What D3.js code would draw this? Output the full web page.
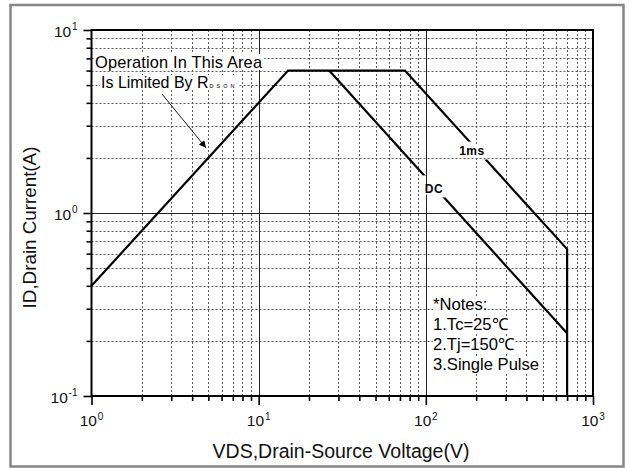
<!DOCTYPE html>
<html><head><meta charset="utf-8">
<script src="https://cdn.jsdelivr.net/npm/d3@7"></script>
<style>body{margin:0;background:#fff}svg{display:block}</style>
</head><body><svg id="c" width="630" height="468"></svg>
<script>
// ---------- data ----------
const soaV = [1, 15, 75, 700, 700];          // 1ms SOA outline (V)
const soaI = [0.4, 6, 6, 0.635, 0.1];        // (A)
const dcV = [26.4, 700];                     // DC line (V)
const dcI = [6, 0.22];                       // (A)
const xDecades = [1, 10, 100, 1000];
const xTickExp = ["0", "1", "2", "3"];
const yDecades = [0.1, 1, 10];
const yTickExp = ["-1", "0", "1"];
const lineLabels = ["1ms", "DC"];
const lineLabelV = [188.7, 111.8];
const lineLabelI = [2.2, 1.35];
const notes = ["*Notes:", "1.Tc=25\u2103", "2.Tj=150\u2103", "3.Single Pulse"];
const annot1 = "Operation In This Area";
const annot2 = "Is Limited By R";
const annot2Sub = "DSON";
const arrowV = [2.64, 4.84];
const arrowI = [4.47, 2.27];
const xTitle = "VDS,Drain-Source Voltage(V)";
const yTitle = "ID,Drain Current(A)";

// ---------- layout ----------
const W = 630, H = 468;
const m = {l: 91.5, r: 593, t: 30, b: 396};
const font = "'Liberation Sans', Arial, Helvetica, sans-serif";
const x = d3.scaleLog().domain([1, 1000]).range([m.l, m.r]);
const y = d3.scaleLog().domain([0.1, 10]).range([m.b, m.t]);
const svg = d3.select("#c").attr("font-family", font);
const isDecade = v => Math.abs(Math.log10(v) - Math.round(Math.log10(v))) < 1e-9;
const px = v => Math.round(v) + 0.5;

svg.append("rect").attr("width", W).attr("height", H).attr("fill", "#fff");
svg.append("rect").attr("x", 10.5).attr("y", 5).attr("width", 613).attr("height", 461.5)
  .attr("fill", "none").attr("stroke", "#868686").attr("stroke-width", 2.5);

// grid
const xt = x.ticks(), yt = y.ticks();
const grid = svg.append("g");
grid.selectAll(".gx").data(xt.filter(v => !isDecade(v))).join("line")
  .attr("x1", d => px(x(d))).attr("x2", d => px(x(d))).attr("y1", m.t).attr("y2", m.b)
  .attr("stroke", "#5c5c5c").attr("stroke-dasharray", "2,2");
grid.selectAll(".gy").data(yt.filter(v => !isDecade(v))).join("line")
  .attr("y1", d => px(y(d))).attr("y2", d => px(y(d))).attr("x1", m.l).attr("x2", m.r)
  .attr("stroke", "#5c5c5c").attr("stroke-dasharray", "2,2");
grid.selectAll(".gX").data(xDecades.slice(1, -1)).join("line")
  .attr("x1", d => px(x(d))).attr("x2", d => px(x(d))).attr("y1", m.t).attr("y2", m.b)
  .attr("stroke", "#222");
grid.selectAll(".gY").data(yDecades.slice(1, -1)).join("line")
  .attr("y1", d => px(y(d))).attr("y2", d => px(y(d))).attr("x1", m.l).attr("x2", m.r)
  .attr("stroke", "#222");

// text backgrounds layer + text layer
const bgLayer = svg.append("g");
const curveLayer = svg.append("g");
const textLayer = svg.append("g");
function withBg(sel, pad) {
  const b = sel.node().getBBox();
  bgLayer.append("rect").attr("x", b.x - pad[0]).attr("y", b.y - pad[1])
    .attr("width", b.width + pad[0] + pad[2]).attr("height", b.height + pad[1] + pad[3])
    .attr("fill", "#fff");
  return b;
}

// annotation
const a1 = textLayer.append("text").attr("x", 95).attr("y", 68).attr("font-size", 16.4)
  .attr("textLength", 167).text(annot1);
withBg(a1, [1, -1, 1, -1]);
const a2 = textLayer.append("text").attr("x", 101).attr("y", 88).attr("font-size", 16);
a2.append("tspan").text(annot2);
a2.append("tspan").attr("font-size", 5.5).attr("letter-spacing", 3).attr("dx", 1).text(annot2Sub);
withBg(a2, [1, -1, 1, -1]);

// notes
notes.forEach((t, i) => {
  const n = textLayer.append("text").attr("x", 433).attr("y", 310 + i * 20)
    .attr("font-size", 16.6).text(t);
  withBg(n, [0, -1, 0, -1]);
});

// curves with gaps at labels
const defs = svg.append("defs");
const mask = defs.append("mask").attr("id", "gap").attr("maskUnits", "userSpaceOnUse")
  .attr("x", 0).attr("y", 0).attr("width", W).attr("height", H);
mask.append("rect").attr("width", W).attr("height", H).attr("fill", "#fff");
const gapPad = [[1, 2, 2, 2], [2, 7, 2, 1]];
lineLabels.forEach((t, i) => {
  const cx = x(lineLabelV[i]), cy = y(lineLabelI[i]);
  const lt = textLayer.append("text").attr("x", cx).attr("y", cy + 4.3)
    .attr("text-anchor", "middle").attr("font-size", 12).attr("font-weight", "bold")
    .attr("letter-spacing", 0.5).text(t);
  const b = lt.node().getBBox();
  bgLayer.append("rect").attr("x", b.x).attr("y", cy - 5).attr("width", b.width)
    .attr("height", 10.5).attr("fill", "#fff");
  const p = gapPad[i];
  mask.append("rect").attr("x", b.x - p[0]).attr("y", b.y - p[1])
    .attr("width", b.width + p[0] + p[2]).attr("height", b.height + p[1] + p[3]).attr("fill", "#000");
});

const line = d3.line().x(d => x(d[0])).y(d => y(d[1]));
const cg = curveLayer.attr("mask", "url(#gap)");
cg.append("path").attr("d", line(d3.zip(soaV, soaI))).attr("fill", "none")
  .attr("stroke", "#000").attr("stroke-width", 2.2);
cg.append("path").attr("d", line(d3.zip(dcV, dcI))).attr("fill", "none")
  .attr("stroke", "#000").attr("stroke-width", 2.2);

// arrow
defs.append("marker").attr("id", "ah").attr("viewBox", "0 0 10 10").attr("refX", 10).attr("refY", 5)
  .attr("markerWidth", 9).attr("markerHeight", 7).attr("markerUnits", "userSpaceOnUse")
  .attr("orient", "auto")
  .append("path").attr("d", "M0,0 L10,5 L0,10 Z").attr("fill", "#000");
svg.append("line").attr("x1", x(arrowV[0])).attr("y1", y(arrowI[0]))
  .attr("x2", x(arrowV[1])).attr("y2", y(arrowI[1]))
  .attr("stroke", "#000").attr("stroke-width", 0.9).attr("marker-end", "url(#ah)");

// frame
svg.append("rect").attr("x", m.l).attr("y", m.t).attr("width", m.r - m.l).attr("height", m.b - m.t)
  .attr("fill", "none").attr("stroke", "#000").attr("stroke-width", 2);

// axes ticks
const xAx = svg.append("g").attr("transform", `translate(0,${m.b})`)
  .call(d3.axisBottom(x).tickValues(xt).tickFormat("").tickSizeOuter(0));
xAx.select(".domain").remove();
xAx.selectAll(".tick line").attr("y2", d => isDecade(d) ? 9 : 5).attr("stroke", "#000").attr("stroke-width", 1.6);
const yAx = svg.append("g").attr("transform", `translate(${m.l},0)`)
  .call(d3.axisLeft(y).tickValues(yt).tickFormat("").tickSizeOuter(0));
yAx.select(".domain").remove();
yAx.selectAll(".tick line").attr("x2", d => isDecade(d) ? -8 : -5).attr("stroke", "#000").attr("stroke-width", 1.6);

// tick labels: "10" plus a separate superscript exponent
const baseFs = 15.5, supFs = 10;
function powLabel(g, cx, baseY, exp, anchor) {
  const base = g.append("text").attr("font-size", baseFs).attr("fill", "#111").attr("y", baseY).text("10");
  const sup = g.append("text").attr("font-size", supFs).attr("fill", "#111").attr("y", baseY - 6.5).text(exp);
  const bw = base.node().getComputedTextLength();
  const sw = sup.node().getComputedTextLength();
  const total = bw + 0.8 + sw;
  const x0 = anchor === "middle" ? cx - total / 2 : cx - total;
  base.attr("x", x0);
  sup.attr("x", x0 + bw + 0.8);
}
const tl = svg.append("g");
xDecades.forEach((d, i) => powLabel(tl, x(d), 426, xTickExp[i], "middle"));
yDecades.forEach((d, i) => powLabel(tl, 77.5, y(d) + 6.5, yTickExp[i], "end"));

// titles
svg.append("text").attr("x", 341).attr("y", 458).attr("text-anchor", "middle")
  .attr("font-size", 19.5).attr("fill", "#111").text(xTitle);
svg.append("text").attr("transform", "translate(36,227.5) rotate(-90)").attr("text-anchor", "middle")
  .attr("font-size", 18.8).attr("fill", "#111").text(yTitle);
</script></body></html>
